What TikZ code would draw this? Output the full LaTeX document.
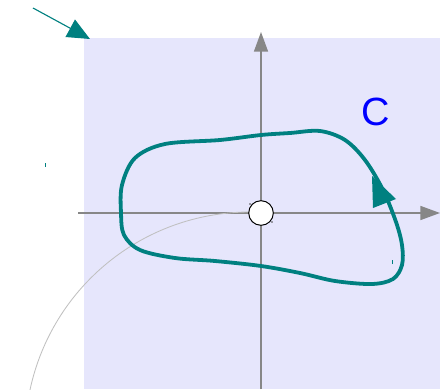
\documentclass[tikz,border=0pt]{standalone}
\usepackage{fontspec}
\newfontfamily\labelfont{Liberation Sans}
\usetikzlibrary{arrows.meta}
\definecolor{planebg}{RGB}{230,230,252}
\definecolor{axisgray}{RGB}{135,135,135}
\definecolor{arcgray}{RGB}{192,192,192}
\tikzset{
	axis/.style={axisgray, line width=1pt, -{Triangle[length=14pt, width=10pt]}},
	contour/.style={teal, line width=2.7pt},
	speck/.style={teal, line width=0.7pt}
}
\begin{document}
\begin{tikzpicture}[x=0.025cm, y=0.025cm]
	\useasboundingbox (0,0) rectangle (440,389);
	% plane
	\fill[planebg] (84,0) rectangle (440,351);
	
	% pointer into the corner
	\coordinate (P0) at (33,381);
	\coordinate (P1) at (90,350);
	\draw[teal, line width=0.8pt, -{Triangle[length=16pt, width=14pt]}] (P0) -- (P1);
	
	% axes
	\coordinate (xL) at (78,176);
	\coordinate (xR) at (440,176);
	\coordinate (yB) at (261,0);
	\coordinate (yT) at (261,357);
	\draw[axis] (xL) -- (xR);
	\draw[axis] (yB) -- (yT);
	
	% thin arc
	\draw[arcgray, line width=0.6pt] (250,177) arc[start angle=90, end angle=168, radius=225];
	
	% the point removed at the origin
	\node[circle, draw=black, fill=white, line width=0.7pt, minimum size=17.5pt, inner sep=0pt] (O) at (261,176) {};
	
	% closed contour C
	\draw[contour] plot[smooth cycle, tension=0.55] coordinates {
		(396,167) (402,144) (402,124) (393,110) (372,105) (335,108)
		(300,116) (261,123) (215,128) (175,131) (140,139) (124,154)
		(121,176) (122,204) (135,231) (165,245) (220,249) (261,254)
		(290,256) (320,258) (345,249) (365,229) (383,199)};
	% arrow head on C
	\coordinate (tip) at (372,213);
	\fill[teal] (tip) -- (373,181) -- (396,190) -- cycle;
	\node[blue, font=\labelfont\fontsize{28}{30}\selectfont] (Clab) at (376,277) {C};
	
	% specks
	\draw[speck] (45,222) -- (45,226);
	\draw[speck] (392,125) -- (392,129);
	\fill[black!70] (250,185) circle (0.8);
	\fill[black!70] (272,167) circle (0.8);
\end{tikzpicture}
\end{document}
